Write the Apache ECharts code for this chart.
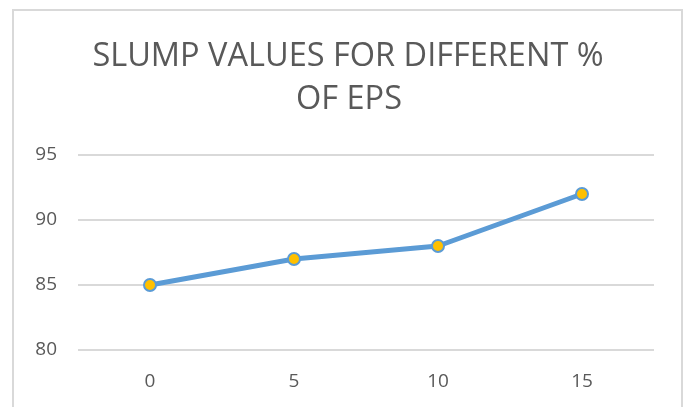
<!DOCTYPE html>
<html>
<head>
<meta charset="utf-8">
<script src="https://cdn.jsdelivr.net/npm/echarts@6/dist/echarts.min.js"></script>
<style>html,body{margin:0;padding:0;background:#fff;}#c{width:688px;height:407px;}</style>
</head>
<body>
<div id="c"></div>
<script>
const titleLines = ['SLUMP VALUES FOR DIFFERENT %', 'OF EPS'];
const categories = ['0', '5', '10', '15'];
const slumpValues = [85, 87, 88, 92];
const yMin = 80, yMax = 95, yInterval = 5;

const chart = echarts.init(document.getElementById('c'));
const font = '"Open Sans", sans-serif';
chart.setOption({
  animation: false,
  backgroundColor: '#fff',
  graphic: [
    { type: 'rect', shape: { x: 13, y: 10, width: 669, height: 420 }, style: { fill: 'none', stroke: '#d9d9d9', lineWidth: 2 }, silent: true },
    { type: 'text', x: 348, y: 57, style: { text: titleLines[0], fill: '#595959', font: '400 32.5px ' + font, textAlign: 'center', textVerticalAlign: 'middle' } },
    { type: 'text', x: 349, y: 100, style: { text: titleLines[1], fill: '#595959', font: '400 32.5px ' + font, textAlign: 'center', textVerticalAlign: 'middle' } }
  ],
  grid: { left: 78, right: 34, top: 155, bottom: 57 },
  xAxis: {
    type: 'category',
    data: categories,
    boundaryGap: true,
    axisLine: { show: false },
    axisTick: { show: false },
    axisLabel: { color: '#595959', fontSize: 19, fontFamily: font, margin: 22 }
  },
  yAxis: {
    type: 'value',
    min: yMin, max: yMax, interval: yInterval,
    axisLine: { show: false },
    axisTick: { show: false },
    splitLine: { lineStyle: { color: '#d9d9d9', width: 2 } },
    axisLabel: { color: '#595959', fontSize: 19, fontFamily: font, margin: 21 }
  },
  series: [{
    type: 'line',
    data: slumpValues,
    lineStyle: { color: '#5b9bd5', width: 5 },
    symbol: 'circle',
    symbolSize: 12,
    itemStyle: { color: '#ffc000', borderColor: '#5b9bd5', borderWidth: 2 }
  }]
});
</script>
</body>
</html>
